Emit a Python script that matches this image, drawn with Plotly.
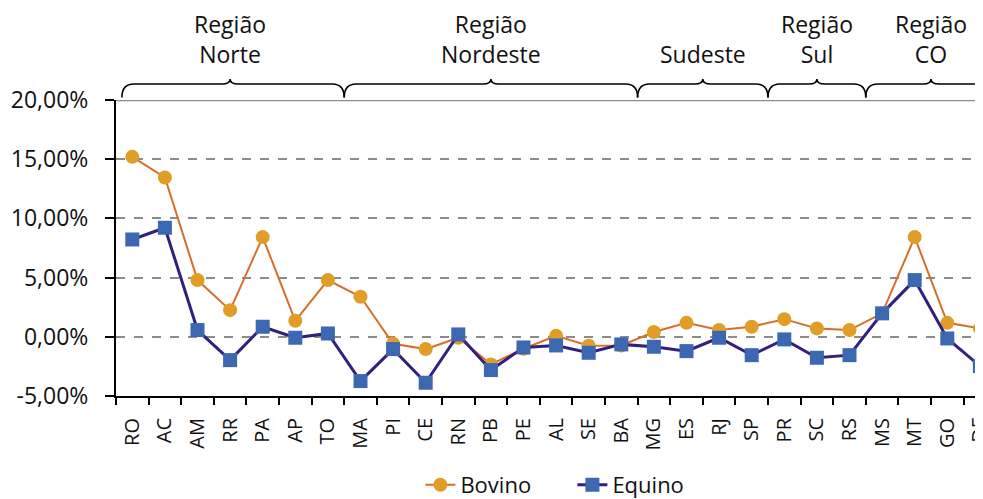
import plotly.graph_objects as go

states = ["RO", "AC", "AM", "RR", "PA", "AP", "TO", "MA", "PI", "CE", "RN", "PB", "PE", "AL",
          "SE", "BA", "MG", "ES", "RJ", "SP", "PR", "SC", "RS", "MS", "MT", "GO", "DF"]
bovino = [15.20, 13.46, 4.79, 2.25, 8.42, 1.35, 4.79, 3.38, -0.59, -1.04, -0.08, -2.33, -1.01, 0.08,
          -0.76, -0.73, 0.40, 1.18, 0.57, 0.85, 1.49, 0.71, 0.57, 1.98, 8.42, 1.18, 0.71]
equino = [8.22, 9.21, 0.57, -1.97, 0.85, -0.08, 0.28, -3.74, -1.04, -3.88, 0.20, -2.81, -0.90, -0.73,
          -1.35, -0.64, -0.84, -1.21, -0.08, -1.55, -0.22, -1.77, -1.55, 1.98, 4.79, -0.14, -2.47]
y_ticks = [-5, 0, 5, 10, 15, 20]
y_ticktext = ["-5,00%", "0,00%", "5,00%", "10,00%", "15,00%", "20,00%"]

# regions: (label, first state index, last state index)
regions = [("Região<br>Norte", 0, 6), ("Região<br>Nordeste", 7, 15), ("Sudeste", 16, 19),
           ("Região<br>Sul", 20, 22), ("Região<br>CO", 23, 26)]

OFF = 8  # page body margin
W, H = 983 - OFF, 499 - OFF
ML, MR, MT, MB = 116 - OFF, 0, 100 - OFF, 103
PW, PH = W - ML - MR, H - MT - MB
cat_w = 32.6
x_range = [-0.5, -0.5 + PW / cat_w]

FONT = "Open Sans"
TXT = "#111111"

fig = go.Figure()
fig.add_trace(go.Scatter(x=states, y=bovino, name="Bovino", mode="lines+markers",
                         line=dict(color="#D66F2C", width=2),
                         marker=dict(symbol="circle", size=14, color="#E09E28")))
fig.add_trace(go.Scatter(x=states, y=equino, name="Equino", mode="lines+markers",
                         line=dict(color="#33207E", width=3),
                         marker=dict(symbol="square", size=14, color="#3B68B0")))


def cx(c):
    return (c - x_range[0]) / (x_range[1] - x_range[0])


def py(p):
    # page pixel y (from top of window) to paper y
    return 1 + (MT + OFF - p) / PH


def pxw(d):
    return d / PW


shapes = []
# solid top line at 20%
shapes.append(dict(type="line", xref="paper", yref="y", x0=0, x1=1, y0=20, y1=20,
                   line=dict(color="#8C8C8C", width=2.5), layer="above"))

annotations = []
for i, (lab, a, b) in enumerate(regions):
    start = a - 0.5
    end = b + 0.5
    if i == 0:
        start = -0.32
    mid = (a - 0.5 + b + 0.5) / 2
    x0, x1, xm = cx(start), cx(end), cx(mid)
    r = pxw(12)
    t = pxw(8)
    yb, yf, yt = py(97.5), py(84), py(79)
    path = (f"M {x0},{yb} Q {x0},{yf} {x0 + r},{yf} L {xm - t},{yf} Q {xm},{yf} {xm},{yt} "
            f"Q {xm},{yf} {xm + t},{yf} L {x1 - r},{yf} Q {x1},{yf} {x1},{yb}")
    shapes.append(dict(type="path", xref="paper", yref="paper", path=path,
                       line=dict(color="black", width=1.6)))
    annotations.append(dict(xref="paper", yref="paper", x=xm, y=py(72), text=lab,
                            showarrow=False, xanchor="center", yanchor="bottom",
                            font=dict(family=FONT, size=23, color=TXT)))

fig.update_layout(
    width=W, height=H,
    margin=dict(l=ML, r=MR, t=MT, b=MB, autoexpand=False),
    plot_bgcolor="white", paper_bgcolor="white",
    font=dict(family=FONT, size=22, color=TXT),
    shapes=shapes,
    annotations=annotations,
    showlegend=True,
    legend=dict(orientation="h", x=cx(13.5), xanchor="center", y=py(506), yanchor="bottom",
                font=dict(family=FONT, size=22, color=TXT), entrywidth=107,
                tracegroupgap=0, bgcolor="rgba(0,0,0,0)"),
    xaxis=dict(type="category", range=x_range, tickson="boundaries", ticks="outside",
               ticklen=7, tickwidth=2, tickcolor="black", showline=True, linecolor="black",
               linewidth=2, showgrid=False, tickangle=-90, ticklabelstandoff=12,
               automargin=False,
               tickfont=dict(family=FONT, size=20, color=TXT), zeroline=False),
    yaxis=dict(range=[-5, 20], tickvals=y_ticks, ticktext=y_ticktext,
               ticks="outside", ticklen=9, tickwidth=2, tickcolor="black",
               showline=True, linecolor="black", linewidth=2, automargin=False,
               showgrid=True, gridcolor="#8C8C8C", gridwidth=2, griddash="dash",
               zeroline=False, ticklabelstandoff=12,
               tickfont=dict(family=FONT, size=23, color=TXT)),
)

fig.write_html("out.html")
